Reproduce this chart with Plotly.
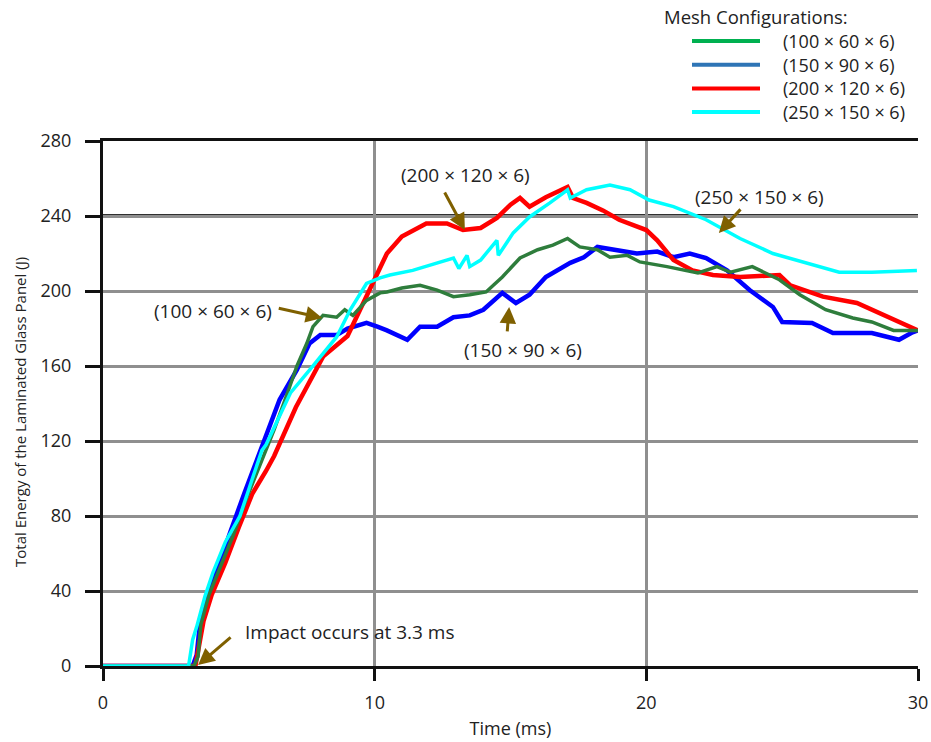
import plotly.graph_objects as go

# ---- data: total energy (J) vs time (ms) for each mesh configuration ----
t_100 = [0, 3.35, 3.5, 3.6, 3.9, 4.3, 4.8, 5.3, 5.8, 6.3, 6.8, 7.14, 7.5, 7.73, 8.1, 8.6, 8.9, 9.2, 9.7,
         10.2, 10.45, 11.0, 11.67, 12.3, 12.9, 13.5, 14.1, 14.7, 15.35, 16.0, 16.56, 17.1, 17.55, 18.2,
         18.66, 19.3, 19.76, 20.76, 21.9, 22.6, 23.1, 23.9, 24.9, 25.65, 26.6, 27.6, 28.3, 29.1, 30]
e_100 = [0, 0, 5, 22, 38, 52, 70, 90, 108, 126, 146, 160, 172, 181, 187, 186, 190, 187, 195,
         199, 199.5, 201.6, 203, 200.5, 197, 198, 199.5, 207.5, 217.6, 222, 224.5, 228, 223.5, 222,
         218, 219, 215.5, 213, 209.6, 213, 210, 213, 206, 198, 190, 185.6, 183.5, 179, 179]

t_150 = [0, 3.3, 3.45, 3.55, 3.8, 4.2, 4.7, 5.2, 5.7, 6.0, 6.5, 7.14, 7.6, 8.0, 8.6, 9.0, 9.7, 10.1,
         10.45, 11.2, 11.67, 12.3, 12.9, 13.5, 14.0, 14.7, 15.2, 15.7, 16.3, 17.2, 17.7, 18.2, 18.9,
         19.65, 20.4, 21.0, 21.6, 22.2, 22.97, 23.8, 24.66, 25.0, 26.1, 26.87, 28.3, 29.3, 29.8, 30]
e_150 = [0, 0, 6, 20, 35, 52, 72, 92, 111, 122, 142, 158, 172, 176.5, 176.5, 180, 183, 181,
         179, 174, 181, 181, 186, 187, 190, 199, 193.6, 198, 207.5, 215, 218, 223.5, 222,
         220, 221, 218, 220, 217.6, 211, 200.5, 191.5, 183.5, 183, 177.6, 177.6, 174, 178, 179]

t_200 = [0, 3.4, 3.5, 3.7, 4.0, 4.5, 5.0, 5.5, 6.0, 6.3, 7.1, 8.1, 9.0, 9.83, 10.45, 11.0, 11.9,
         12.66, 13.25, 13.9, 14.5, 15.0, 15.35, 15.7, 16.3, 17.1, 17.3, 17.8, 18.4, 19.0, 20.0, 20.4,
         21.0, 21.7, 22.45, 23.45, 24.9, 25.3, 26.5, 27.75, 28.6, 29.95, 30]
e_200 = [0, 0, 8, 24, 38, 55, 74, 92, 104, 112, 138, 165, 176, 200.5, 220, 229, 236,
         236, 232.5, 233.6, 239, 246, 249.6, 245, 250, 255.5, 249.6, 247, 243, 238, 232.5, 227,
         216.5, 211, 208.5, 207.5, 208.5, 203, 197, 193.6, 188, 179, 179]

t_250 = [0, 3.15, 3.3, 3.45, 3.75, 4.05, 4.5, 5.04, 5.5, 5.85, 6.0, 6.9, 7.7, 8.6, 9.1, 9.7, 10.2,
         10.56, 11.4, 12.3, 12.9, 13.1, 13.4, 13.5, 13.9, 14.5, 14.55, 15.1, 15.7, 16.45, 17.1, 17.2,
         17.8, 18.66, 19.4, 20.1, 21.0, 22.2, 23.45, 24.66, 25.9, 27.1, 28.3, 29.96]
e_250 = [0, 0, 14, 21, 37, 50, 66, 80, 100, 115, 118, 145.6, 159.5, 175.5, 190, 204, 207,
         208.5, 211, 215, 217.6, 212, 219, 213, 216.5, 227, 219, 231, 239.5, 247, 254, 249.6,
         254, 256.5, 254, 248.5, 245, 238, 228, 220, 215, 210, 210, 211]

series_names = ["(100 × 60 × 6)", "(150 × 90 × 6)", "(200 × 120 × 6)", "(250 × 150 × 6)"]
line_colors = ["#2e7d3c", "#0000ff", "#ff0000", "#00ffff"]
legend_colors = ["#00b050", "#2e75b6", "#ff0000", "#00ffff"]

x_ticks = [0, 10, 20, 30]
y_ticks = [0, 40, 80, 120, 160, 200, 240, 280]

FONT = "Open Sans"
TEXT = "#222222"
ARROW = "#7f6000"

# plot area in pixels
W, H = 931, 742
L, R, T, B = 103, 13, 141, 76
PW, PH = W - L - R, H - T - B


def px(x):
    return (x - L) / PW


def py(y):
    return (H - B - y) / PH


fig = go.Figure()

# draw order: blue, red, green, cyan on top
order = [1, 2, 0, 3]
data = [(t_100, e_100), (t_150, e_150), (t_200, e_200), (t_250, e_250)]
widths = [3.5, 4.5, 4.5, 3.5]
for i in order:
    tx, ey = data[i]
    fig.add_trace(go.Scatter(x=tx, y=ey, mode="lines", name=series_names[i],
                             line=dict(color=line_colors[i], width=widths[i]),
                             showlegend=False, cliponaxis=False))

# emphasised 240 J reference line
fig.add_shape(type="line", xref="x", yref="y", x0=0, x1=30, y0=240, y1=240,
              line=dict(color="#303030", width=4), layer="below")

# ---- arrow callouts ----
callouts = [
    # (tip_x, tip_y, ax, ay, text, text_x, text_y, xanchor)
    (8.07, 185.6, -45, -10, series_names[0], 4.05, 189.3, "center"),
    (13.32, 232.5, -21, -39, series_names[2], 13.36, 261.9, "center"),
    (22.67, 231.0, 23, -25, series_names[3], 24.18, 250.1, "center"),
    (14.95, 191.5, -2, 26, series_names[1], 15.46, 168.5, "center"),
    (3.5, 0.5, 34, -29, "Impact occurs at 3.3 ms", 5.15, 18.1, "left"),
]
for tx, ty, ax, ay, text, lx, ly, anch in callouts:
    fig.add_annotation(x=tx, y=ty, ax=ax, ay=ay, text="", showarrow=True,
                       arrowhead=2, arrowsize=1.1, arrowwidth=3, arrowcolor=ARROW,
                       standoff=0, startstandoff=0)
    fig.add_annotation(x=lx, y=ly, text=text, showarrow=False, xanchor=anch, yanchor="middle",
                       font=dict(family=FONT, size=19, color=TEXT))

# ---- legend block ----
fig.add_annotation(xref="paper", yref="paper", x=px(662), y=py(17), text="Mesh Configurations:",
                   showarrow=False, xanchor="left", yanchor="middle",
                   font=dict(family=FONT, size=18.5, color=TEXT))
for k, (name, col) in enumerate(zip(series_names, legend_colors)):
    yy = 41 + k * 23.7
    fig.add_shape(type="line", xref="paper", yref="paper", x0=px(692), x1=px(760),
                  y0=py(yy), y1=py(yy), line=dict(color=col, width=4))
    fig.add_annotation(xref="paper", yref="paper", x=px(781), y=py(yy), text=name,
                       showarrow=False, xanchor="left", yanchor="middle",
                       font=dict(family=FONT, size=18, color=TEXT))

# y-axis title placed as rotated text
fig.add_annotation(xref="paper", yref="paper", x=px(20), y=py(412),
                   text="Total Energy of the Laminated Glass Panel (J)", textangle=-90,
                   showarrow=False, xanchor="center", yanchor="middle",
                   font=dict(family=FONT, size=15, color=TEXT))

axis_font = dict(family=FONT, size=18, color=TEXT)

fig.update_layout(
    width=W, height=H,
    margin=dict(l=L, r=R, t=T, b=B, autoexpand=False),
    paper_bgcolor="white", plot_bgcolor="white",
    showlegend=False,
    xaxis=dict(range=[0, 30], tickvals=x_ticks, ticktext=[str(v) for v in x_ticks],
               ticks="outside", ticklen=12, tickwidth=2.5, tickcolor="#111111",
               showline=True, linecolor="#111111", linewidth=3, mirror=True,
               showgrid=True, gridcolor="#8f8f8f", gridwidth=2.5, zeroline=False,
               tickfont=axis_font, ticklabelstandoff=6, layer="below traces",
               automargin=False,
               title=dict(text="Time (ms)", font=dict(family=FONT, size=18, color=TEXT),
                          standoff=10)),
    yaxis=dict(range=[0, 280], tickvals=y_ticks, ticktext=[str(v) for v in y_ticks],
               ticks="outside", ticklen=15, tickwidth=2.5, tickcolor="#111111",
               showline=True, linecolor="#111111", linewidth=3,
               showgrid=True, gridcolor="#8f8f8f", gridwidth=2.5, zeroline=False,
               tickfont=axis_font, ticklabelstandoff=10, layer="below traces",
               automargin=False),
    # inner tick marks
    xaxis2=dict(range=[0, 30], overlaying="x", anchor="y", side="bottom", dtick=5, tick0=0,
                ticks="inside", ticklen=10, tickwidth=2.5, tickcolor="#111111",
                showticklabels=False, showgrid=False, showline=False, zeroline=False),
    yaxis2=dict(range=[0, 280], overlaying="y", anchor="x", side="left", dtick=20, tick0=0,
                ticks="inside", ticklen=12, tickwidth=2.5, tickcolor="#111111",
                showticklabels=False, showgrid=False, showline=False, zeroline=False),
)

fig.write_html("out.html")
